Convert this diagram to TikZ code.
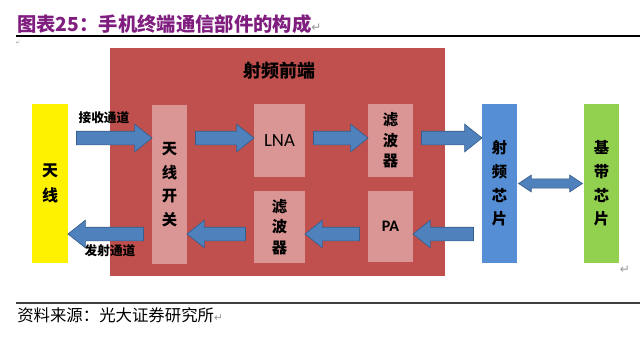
\documentclass[tikz,border=0pt]{standalone}
\usepackage{fontspec}
\setmainfont{Carlito}
\newfontfamily\cjk{Noto Sans CJK SC}
\newfontfamily\symb{DejaVu Sans}
\usetikzlibrary{calc,shapes.arrows}
\definecolor{titlepurple}{RGB}{128,30,128}
\definecolor{frontred}{RGB}{192,80,77}
\definecolor{partpink}{RGB}{217,150,148}
\definecolor{arrowfill}{RGB}{79,129,189}
\definecolor{arrowline}{RGB}{56,93,138}
\definecolor{rfblue}{RGB}{85,142,213}
\definecolor{bbgreen}{RGB}{146,208,80}
\definecolor{markgray}{RGB}{150,150,150}
\tikzset{
  part/.style={fill=partpink,inner sep=0pt,align=center,font=\cjk\bfseries\fontsize{11}{16}\selectfont},
  chip/.style={inner sep=0pt,align=center,minimum width=26.25pt,minimum height=119.25pt,font=\cjk\bfseries\fontsize{11.5}{17.8}\selectfont},
  sarrow/.style={single arrow,draw=arrowline,fill=arrowfill,line width=.5pt,inner xsep=0pt,inner ysep=4.875pt,
    text height=0pt,text depth=0pt,single arrow head extend=5.25pt,single arrow tip angle=77},
  darrow/.style={double arrow,draw=arrowline,fill=arrowfill,line width=.5pt,inner xsep=0pt,inner ysep=3.2pt,
    text height=0pt,text depth=0pt,double arrow head extend=2.8pt,double arrow tip angle=67},
  blk/.style={to path={let \p1=(\tikztostart),\p2=(\tikztotarget),\n1={veclen(\x2-\x1,\y2-\y1)-6pt},\n2={atan2(\y2-\y1,\x2-\x1)} in
    ($(\tikztostart)!.5!(\tikztotarget)$) node[sarrow,minimum height=\n1,rotate=\n2]{}}},
  dblk/.style={to path={let \p1=(\tikztostart),\p2=(\tikztotarget),\n1={veclen(\x2-\x1,\y2-\y1)-2pt} in
    ($(\tikztostart)!.5!(\tikztotarget)$) node[darrow,minimum height=\n1]{}}},
  chlabel/.style={font=\cjk\bfseries\fontsize{9.5}{11}\selectfont}
}
\begin{document}
\begin{tikzpicture}[x=.75pt,y=-.75pt]
\useasboundingbox (0,0) rectangle (640,337);
% title and rules
\node[anchor=west,inner sep=0pt,text=titlepurple,font=\cjk\bfseries\fontsize{14.5}{16}\selectfont] (title) at (17,24)
  {图表25：手机终端通信部件的构成{\symb\mdseries\fontsize{9}{10}\selectfont\color{markgray}↵}};
\draw[line width=.9pt] (16,36) -- (640,36);
\node[inner sep=0pt,text=markgray,font=\symb\fontsize{4}{5}\selectfont] (mark1) at (18,43) {↵};
\draw[line width=.9pt,black!75] (16,303) -- (640,303);
\node[anchor=west,inner sep=0pt,font=\cjk\fontsize{12.3}{13}\selectfont] (source) at (17,315)
  {资料来源：光大证券研究所{\symb\fontsize{8}{9}\selectfont\color{markgray}↵}};
\node[inner sep=0pt,text=markgray,font=\symb\fontsize{9}{10}\selectfont] (mark2) at (625,270) {↵};
% radio front end
\node[fill=frontred,minimum width=251.25pt,minimum height=171pt,inner sep=0pt] (fe) at (277.5,162) {};
\node[font=\cjk\bfseries\fontsize{13.5}{14}\selectfont] (felabel) at (279,71) {射频前端};
\node[part,minimum width=26.25pt,minimum height=119.25pt,font=\cjk\bfseries\fontsize{11.5}{17.6}\selectfont] (sw) at (169.5,184.5) {天\\线\\开\\关};
\node[part,minimum width=38.25pt,minimum height=54.75pt,font=\fontsize{14}{16}\selectfont] (lna) at (279.5,140.5) {LNA};
\node[part,minimum width=33.75pt,minimum height=54.75pt,font=\cjk\bfseries\fontsize{11.5}{15.4}\selectfont] (flta) at (390.5,140.5) {滤\\波\\器};
\node[part,minimum width=38.25pt,minimum height=54pt,font=\cjk\bfseries\fontsize{11.5}{15.4}\selectfont] (fltb) at (279.5,227) {滤\\波\\器};
\node[part,minimum width=33.75pt,minimum height=53.25pt,font=\bfseries\fontsize{12}{14}\selectfont] (pa) at (390.5,226.5) {PA};
% antenna and chips
\node[chip,fill=yellow,minimum width=27pt,font=\cjk\bfseries\fontsize{12}{18.75}\selectfont] (ant) at (50,183.5) {天\\线};
\node[chip,fill=rfblue] (rf) at (499.5,183.5) {射\\频\\芯\\片};
\node[chip,fill=bbgreen] (bb) at (601.5,183.5) {基\\带\\芯\\片};
% signal paths
\coordinate (rx) at (0,138);
\coordinate (tx) at (0,234);
\draw[blk] (ant.east |- rx) to (sw.west |- rx);
\draw[blk] (sw.east |- rx) to (lna.west |- rx);
\draw[blk] (lna.east |- rx) to (flta.west |- rx);
\draw[blk] (flta.east |- rx) to (rf.west |- rx);
\draw[blk] (rf.west |- tx) to (pa.east |- tx);
\draw[blk] (pa.west |- tx) to (fltb.east |- tx);
\draw[blk] (fltb.west |- tx) to (sw.east |- tx);
\draw[blk] (sw.west |- tx) to (ant.east |- tx);
\draw[dblk] (rf.east) to (bb.west);
\node[chlabel] (rxlabel) at (104,118) {接收通道};
\node[chlabel] (txlabel) at (110,251) {发射通道};
\end{tikzpicture}
\end{document}
